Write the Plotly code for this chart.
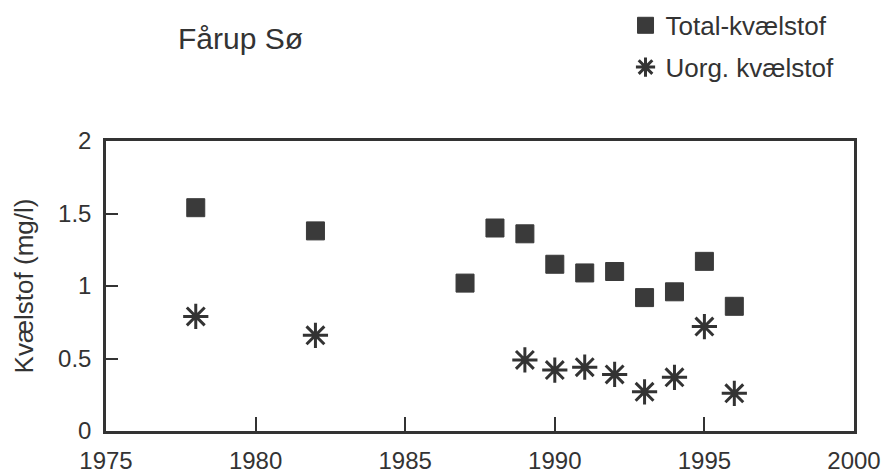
import plotly.graph_objects as go

# Data
years_total = [1978, 1982, 1987, 1988, 1989, 1990, 1991, 1992, 1993, 1994, 1995, 1996]
total_n = [1.54, 1.38, 1.02, 1.40, 1.36, 1.15, 1.09, 1.10, 0.92, 0.96, 1.17, 0.86]

years_uorg = [1978, 1982, 1989, 1990, 1991, 1992, 1993, 1994, 1995, 1996]
uorg_n = [0.79, 0.66, 0.49, 0.42, 0.44, 0.39, 0.27, 0.37, 0.72, 0.26]

x_ticks = [1975, 1980, 1985, 1990, 1995, 2000]
y_ticks = [0, 0.5, 1, 1.5, 2]
y_ticklabels = ["0", "0.5", "1", "1.5", "2"]

ink = "#333333"
font_family = "Liberation Sans, Arial, sans-serif"

fig = go.Figure()

fig.add_trace(go.Scatter(
    x=years_total, y=total_n,
    mode="markers",
    name="Total-kvælstof",
    legendgroup="a",
    marker=dict(symbol="square", size=18, color="#3a3a3a",
                line=dict(color="#3a3a3a", width=1)),
))

fig.add_trace(go.Scatter(
    x=years_uorg, y=uorg_n,
    mode="markers",
    name="Uorg. kvælstof",
    legendgroup="b",
    marker=dict(symbol="asterisk-open", size=21, color=ink,
                line=dict(color=ink, width=3)),
))

fig.add_annotation(
    text="Fårup Sø",
    xref="paper", yref="paper",
    x=0.093, y=1.355,
    xanchor="left", yanchor="middle",
    showarrow=False,
    font=dict(size=30, color=ink),
)

fig.update_layout(
    width=886, height=473,
    # autoexpand off: the legend up top must not shrink the plot area
    margin=dict(l=106, r=32, t=141, b=42, autoexpand=False),
    paper_bgcolor="white",
    plot_bgcolor="white",
    font=dict(family=font_family, color=ink),
    showlegend=True,
    legend=dict(
        xref="container", yref="container",
        x=0.706, y=0.996, xanchor="left", yanchor="top",
        font=dict(size=26, color=ink),
        traceorder="grouped",
        tracegroupgap=5,
        bgcolor="rgba(0,0,0,0)",
        itemwidth=30,
    ),
    xaxis=dict(
        range=[1975, 2000],
        tickvals=x_ticks,
        ticks="inside", ticklen=14, tickwidth=2, tickcolor=ink,
        showline=True, linewidth=2.5, linecolor=ink, mirror=True,
        showgrid=False, zeroline=False,
        tickfont=dict(size=24, color=ink),
        ticklabelstandoff=6,
        automargin=False,
    ),
    yaxis=dict(
        range=[0, 2],
        tickvals=y_ticks,
        ticktext=y_ticklabels,
        ticks="inside", ticklen=12, tickwidth=2, tickcolor=ink,
        showline=True, linewidth=2.5, linecolor=ink, mirror=True,
        showgrid=False, zeroline=False,
        tickfont=dict(size=24, color=ink),
        ticklabelstandoff=7,
        title=dict(text="Kvælstof (mg/l)", font=dict(size=26, color=ink), standoff=17),
        automargin=False,
    ),
)

# drop the default body margin so the figure sits at the window's corner
fig.write_html(
    "out.html",
    config={"displayModeBar": False},
    post_script="document.body.style.margin='0';",
)
